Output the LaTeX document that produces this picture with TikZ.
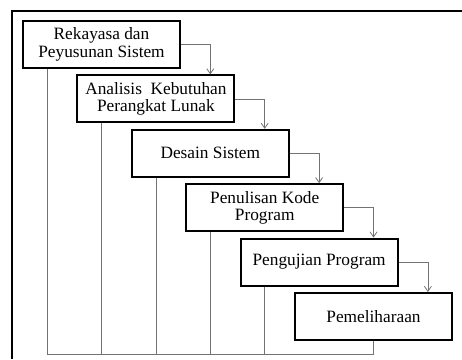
\documentclass[tikz,border=0pt]{standalone}
\usepackage{fontspec}
\setmainfont{Liberation Serif}
\usepackage{tikz}
\usetikzlibrary{arrows.meta, positioning, calc}
\tikzstyle{stage} = [rectangle, draw=black, line width=2pt, minimum width=157pt, minimum height=47pt, align=center, inner sep=2pt, font=\fontsize{17.3}{17.3}\selectfont]
\tikzstyle{flow} = [black!55, line width=0.8pt, -{Straight Barb[length=5pt,width=7pt]}]
\tikzstyle{link} = [black!55, line width=0.8pt]
\tikzstyle{frame} = [black, line width=1.4pt]

\begin{document}
\begin{tikzpicture}[x=1pt, y=-1pt]
    \useasboundingbox (0,0) rectangle (462,359);
    % frame
    \draw[frame] (462,11) -- (12,11) -- (12,359);
    % stages
    \foreach \i/\txt in {1/{Rekayasa dan\\Peyusunan Sistem}, 2/{Analisis~ Kebutuhan\\Perangkat Lunak}, 3/{Desain Sistem}, 4/{Penulisan Kode\\Program}, 5/{Pengujian Program}, 6/{Pemeliharaan}}
        \node[stage] (s\i) at ({101.5+54.4*(\i-1)}, {44.5+54.4*(\i-1)}) {\txt};
    % arrows down the steps
    \foreach \i/\j in {1/2, 2/3, 3/4, 4/5, 5/6}
        \draw[flow] (s\i.east) -| ([xshift=54.4pt]s\j.north);
    % return lines
    \coordinate (base) at (0,354);
    \foreach \i in {1,...,5} {
        \coordinate (b\i) at ($(s\i.south)+(-54.4,0)$);
        \draw[link] (b\i) -- (b\i |- base);
    }
    \coordinate (b6) at (s6.south);
    \draw[link] (b6) -- (b6 |- base) -- (b1 |- base);
\end{tikzpicture}
\end{document}
